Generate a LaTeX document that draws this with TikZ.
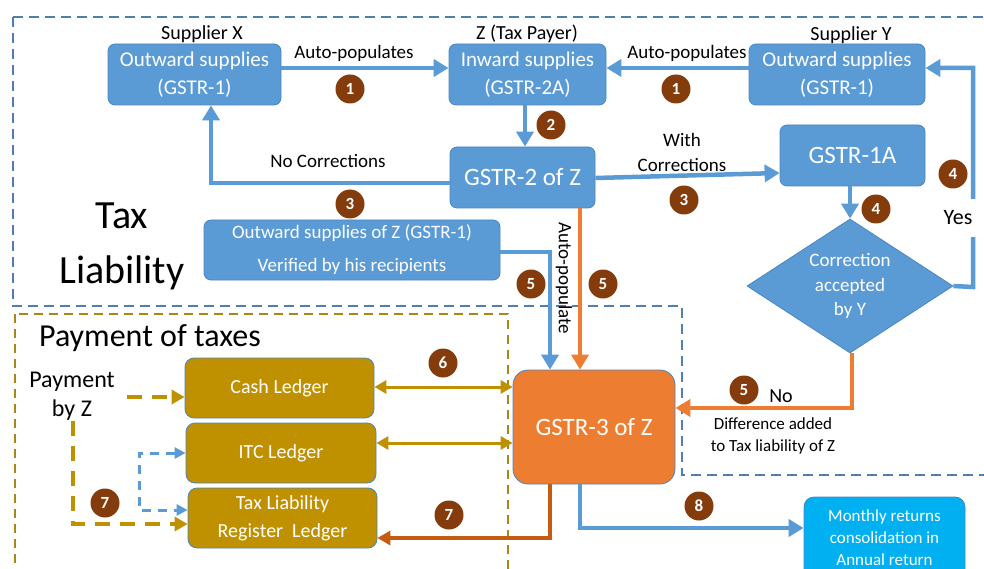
\documentclass[tikz,border=0pt]{standalone}
\usepackage{fontspec}
\setmainfont{Carlito}
\usetikzlibrary{arrows.meta,shapes.geometric,calc}
\definecolor{bbox}{HTML}{5B9BD5}
\definecolor{bedge}{HTML}{4A86C0}
\definecolor{orng}{HTML}{ED7D31}
\definecolor{gold}{HTML}{BF9000}
\definecolor{dorng}{HTML}{C55A11}
\definecolor{badgec}{HTML}{843C0C}
\definecolor{cyanb}{HTML}{00B0F0}
\definecolor{frameblue}{HTML}{4E7FB0}
\definecolor{framegold}{HTML}{A8861A}
\newcommand\fsz[2]{\fontsize{#1}{#2}\selectfont}
\tikzset{
 blbox/.style={rounded corners=7pt, fill=bbox, draw=bedge, line width=0.8pt, text=white, align=center, inner sep=0pt},
 gbox/.style={rounded corners=9pt, fill=gold, draw=bedge, line width=0.8pt, text=white, align=center, inner sep=0pt, font=\fsz{20}{28}},
 badge/.style={circle, fill=badgec, text=white, minimum size=29pt, inner sep=0pt, font=\fsz{17}{17}\bfseries},
 lbl/.style={text=black, inner sep=1pt, align=center},
 barr/.style={draw=bbox, line width=4.5pt, -{Triangle[length=15pt,width=17pt]}},
 oarr/.style={draw=orng, line width=4.5pt, -{Triangle[length=15pt,width=17pt]}},
 doarr/.style={draw=dorng, line width=3.5pt, -{Triangle[length=13pt,width=14pt]}},
 garr/.style={draw=gold, line width=3pt, {Triangle[length=12pt,width=13pt]}-{Triangle[length=12pt,width=13pt]}},
 gdash/.style={draw=gold, line width=4pt, dash pattern=on 15pt off 10pt, -{Triangle[length=13pt,width=14pt]}},
 bdash/.style={draw=bbox, line width=3pt, dash pattern=on 9pt off 7pt, {Triangle[length=11pt,width=11pt]}-{Triangle[length=11pt,width=11pt]}},
 bframe/.style={draw=frameblue, line width=1.8pt, dash pattern=on 10pt off 6pt},
 gframe/.style={draw=framegold, line width=1.8pt, dash pattern=on 9pt off 6pt}
}
\begin{document}
\begin{tikzpicture}[x=1pt,y=-1pt]
\useasboundingbox (0,0) rectangle (984,569);
\fill[white] (0,0) rectangle (984,569);

% frames
\draw[bframe] (13,17) -- (992,17) -- (992,475) -- (682,475) -- (682,306) -- (13,306) -- cycle;
\draw[gframe] (15,314) rectangle (508,600);

% titles
\node[lbl, font=\fsz{40}{55}] (taxl) at (122,246) {Tax\\Liability};
\node[lbl, font=\fsz{32}{36}] (payt) at (150,338) {Payment of taxes};

% top row
\node[lbl, font=\fsz{20}{24}] (lx) at (202,34) {Supplier X};
\node[lbl, font=\fsz{20}{24}] (lz) at (527,34) {Z (Tax Payer)};
\node[lbl, font=\fsz{20}{24}] (ly) at (851,35) {Supplier Y};
\node[blbox, font=\fsz{21}{28}, minimum width=173pt, minimum height=61pt] (sx) at (194.5,74.5) {Outward supplies\\(GSTR-1)};
\node[blbox, font=\fsz{21}{28}, minimum width=157pt, minimum height=61pt] (zin) at (527.5,74.5) {Inward supplies\\(GSTR-2A)};
\node[blbox, font=\fsz{21}{28}, minimum width=176pt, minimum height=61pt] (sy) at (837,74.5) {Outward supplies\\(GSTR-1)};

\node[blbox, font=\fsz{25}{30}, minimum width=145pt, minimum height=61pt] (g2) at (522.5,177.5) {GSTR-2 of Z};
\node[blbox, font=\fsz{25}{30}, minimum width=145pt, minimum height=61pt] (g1a) at (852.5,155.5) {GSTR-1A};
\node[diamond, shape aspect=1.54, fill=bbox, draw=bedge, line width=0.8pt, minimum width=206pt, minimum height=134pt, inner sep=0pt, text=white, align=center, font=\fsz{19}{24.5}] (dia) at (850,286) {Correction\\accepted\\by Y};
\node[blbox, font=\fsz{19}{33}, minimum width=296pt, minimum height=60pt] (ver) at (352,250) {Outward supplies of Z (GSTR-1)\\Verified by his recipients};

\node[blbox, fill=orng, rounded corners=15pt, font=\fsz{25}{30}, minimum width=162pt, minimum height=114pt] (g3) at (594,427) {GSTR-3 of Z};

\node[gbox, minimum width=189pt, minimum height=60pt] (cash) at (279.5,388) {Cash Ledger};
\node[gbox, minimum width=190pt, minimum height=60pt] (itc) at (281,453) {ITC Ledger};
\node[gbox, minimum width=189pt, minimum height=60pt] (tlr) at (282.5,518) {Tax Liability\\Register\ \ Ledger};
\node[blbox, fill=cyanb, rounded corners=10pt, font=\fsz{17}{22}, minimum width=161pt, minimum height=82pt] (mon) at (884.5,538) {Monthly returns\\consolidation in\\Annual return};

\node[lbl, font=\fsz{24}{29}] (pay) at (72,396) {Payment\\by Z};

% connectors top
\draw[barr] (sx.east |- 0,68) -- (zin.west |- 0,68);
\draw[barr] (sy.west |- 0,68) -- (zin.east |- 0,68);
\draw[barr] (zin.south -| 525,0) -- (g2.north -| 525,0);
\draw[barr] (g2.west |- 0,183) -| (sx.south -| 211,0);
\draw[barr] (g2.east |- 0,178) -- (g1a.west |- 0,173);
\draw[barr] (dia.north |- g1a.south) -- (dia.north);
\draw[barr] (dia.east) -- (973,287) -- (973,68) -- (sy.east |- 0,68);
\draw[oarr] (dia.south -| 852,0) |- (g3.east |- 0,408);
\draw[barr] (ver.east |- 0,252) -| (g3.north -| 550,0);
\draw[oarr] (g2.south -| 580,0) -- (g3.north -| 580,0);

% bottom connectors
\draw[garr] (cash.east |- 0,387) -- (g3.west |- 0,387);
\draw[garr] (itc.east |- 0,443) -- (g3.west |- 0,443);
\draw[doarr] (g3.south -| 550,0) |- (tlr.east |- 0,538);
\draw[barr] (g3.south -| 580,0) |- (mon.west |- 0,528);
\draw[gdash] (127,397) -- (cash.west |- 0,397);
\draw[gdash] (pay.south -| 73,0) |- (tlr.west |- 0,524);
\draw[bdash] (itc.west |- 0,453) -| (139,481) |- (tlr.west |- 0,510);

% labels
\node[lbl, font=\fsz{19}{24}] (ap1) at (354,53) {Auto-populates};
\node[lbl, font=\fsz{19}{24}] (ap2) at (687,53) {Auto-populates};
\node[lbl, font=\fsz{19}{24}] (nc) at (328,161) {No Corrections};
\node[lbl, font=\fsz{19}{25}] (wc) at (682,152) {With\\Corrections};
\node[lbl, font=\fsz{19}{24}, rotate=-90] (apv) at (564,278) {Auto-populate};
\node[lbl, font=\fsz{22}{24}, fill=white, minimum width=50pt, minimum height=38pt] (yes) at (958,218) {Yes};
\node[lbl, font=\fsz{20}{24}] (no) at (781,396) {No};
\node[lbl, font=\fsz{17}{22}] (diff) at (773,436) {Difference added\\to Tax liability of Z};

% badges
\node[badge] (b1a) at (350,89) {1};
\node[badge] (b1b) at (676,89) {1};
\node[badge] (b2) at (551,125) {2};
\node[badge] (b3a) at (350,204) {3};
\node[badge] (b3b) at (684,200) {3};
\node[badge] (b4a) at (876,209) {4};
\node[badge] (b4b) at (953,174) {4};
\node[badge] (b5a) at (531,284) {5};
\node[badge] (b5b) at (603,284) {5};
\node[badge] (b5c) at (744,390) {5};
\node[badge] (b6) at (443,363) {6};
\node[badge] (b7a) at (105,503) {7};
\node[badge] (b7b) at (449,515) {7};
\node[badge] (b8) at (699,506) {8};
\end{tikzpicture}
\end{document}
